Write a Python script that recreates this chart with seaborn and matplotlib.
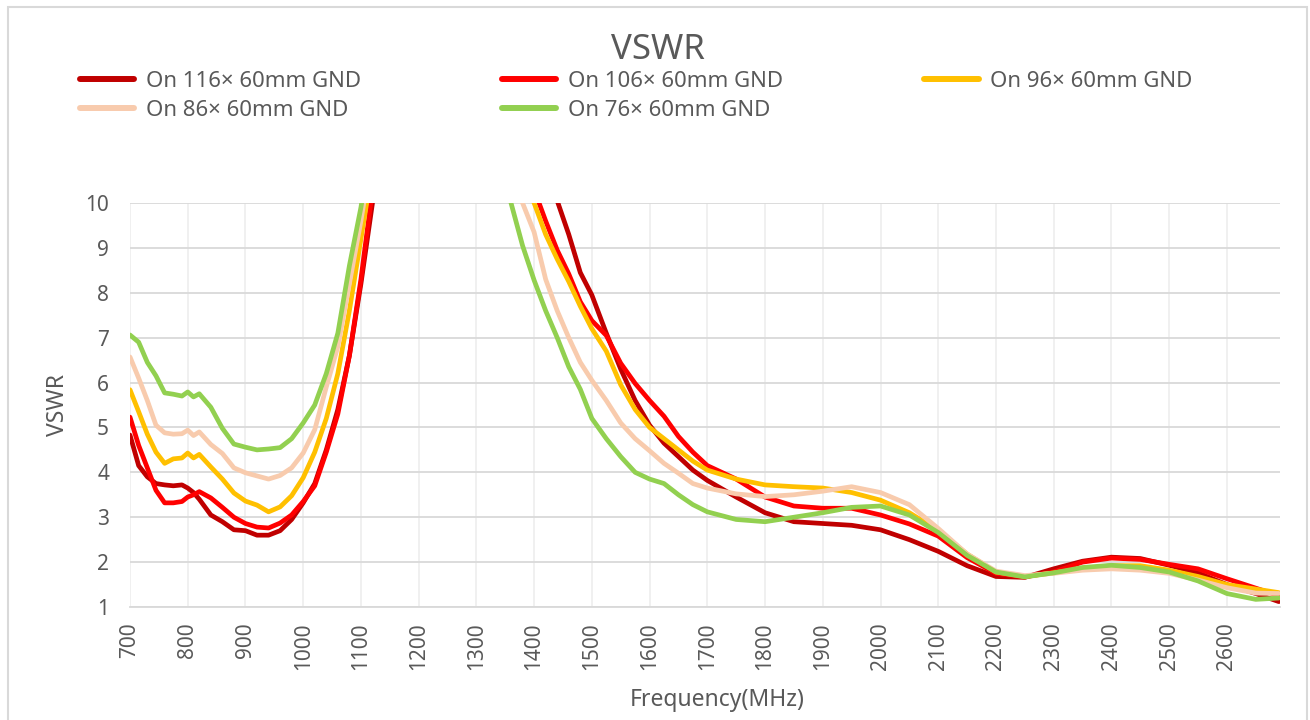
import matplotlib
matplotlib.use('Agg')
import matplotlib.pyplot as plt
import pandas as pd
import seaborn as sns
from matplotlib.patches import Rectangle

# 频率采样点 (MHz)
freq = [700, 715, 730, 745, 760, 775, 790, 800, 810, 820, 840, 860, 880, 900, 920, 940, 960, 980,
        1000, 1020, 1040, 1060, 1080, 1100, 1120, 1140, 1200, 1300, 1340, 1360, 1380, 1400, 1420,
        1440, 1460, 1480, 1500, 1525, 1550, 1575, 1600, 1625, 1650, 1675, 1700, 1750, 1800, 1850,
        1900, 1950, 2000, 2050, 2100, 2150, 2200, 2250, 2300, 2350, 2400, 2450, 2500, 2550, 2600,
        2650, 2690]

vswr_116 = [4.83, 4.15, 3.9, 3.75, 3.72, 3.7, 3.72, 3.65, 3.55, 3.4, 3.05, 2.9, 2.72, 2.7, 2.6, 2.6, 2.7, 2.95,
            3.32, 3.75, 4.5, 5.4, 6.6, 8.2, 10.0, 11.8, 16, 16, 14, 13, 12.2, 11.4, 10.7,
            10.05, 9.3, 8.45, 7.95, 7.1, 6.3, 5.6, 5.05, 4.65, 4.35, 4.05, 3.82, 3.45, 3.1, 2.9,
            2.86, 2.82, 2.72, 2.5, 2.24, 1.92, 1.68, 1.66, 1.85, 2.02, 2.11, 2.08, 1.93, 1.76, 1.5,
            1.3, 1.12]

vswr_106 = [5.23, 4.6, 4.1, 3.6, 3.32, 3.32, 3.35, 3.45, 3.5, 3.57, 3.43, 3.22, 3.0, 2.86, 2.78, 2.76, 2.87, 3.05,
            3.35, 3.7, 4.45, 5.3, 6.6, 8.3, 10.3, 12, 16, 16, 12.5, 11.7, 11.0, 10.3, 9.6,
            8.95, 8.42, 7.8, 7.38, 7.05, 6.43, 5.98, 5.6, 5.25, 4.8, 4.45, 4.15, 3.85, 3.45, 3.25,
            3.2, 3.2, 3.05, 2.85, 2.58, 2.1, 1.75, 1.67, 1.78, 2.0, 2.09, 2.06, 1.95, 1.85, 1.63,
            1.42, 1.25]

vswr_96 = [5.84, 5.35, 4.85, 4.45, 4.2, 4.3, 4.32, 4.43, 4.32, 4.4, 4.12, 3.85, 3.54, 3.36, 3.27, 3.12, 3.23, 3.48,
           3.88, 4.45, 5.2, 6.2, 7.6, 9.2, 10.8, 12.5, 16, 16, 12, 11.3, 10.6, 10.0, 9.3,
           8.75, 8.25, 7.7, 7.2, 6.7, 5.95, 5.4, 5.0, 4.75, 4.5, 4.25, 4.05, 3.85, 3.72, 3.68,
           3.65, 3.55, 3.38, 3.1, 2.7, 2.18, 1.78, 1.68, 1.76, 1.85, 1.92, 1.92, 1.82, 1.68, 1.5,
           1.4, 1.32]

vswr_86 = [6.57, 6.1, 5.6, 5.05, 4.88, 4.85, 4.86, 4.94, 4.82, 4.9, 4.62, 4.42, 4.1, 3.99, 3.92, 3.85, 3.93, 4.1,
           4.43, 4.95, 5.9, 6.8, 8.2, 9.6, 11.2, 13, 16, 16, 11.5, 10.7, 10.0, 9.35, 8.3,
           7.6, 7.0, 6.45, 6.05, 5.6, 5.1, 4.75, 4.48, 4.2, 3.98, 3.75, 3.65, 3.52, 3.46, 3.5,
           3.58, 3.68, 3.55, 3.28, 2.75, 2.18, 1.8, 1.7, 1.75, 1.82, 1.85, 1.82, 1.75, 1.6, 1.43,
           1.31, 1.3]

vswr_76 = [7.06, 6.9, 6.45, 6.15, 5.77, 5.74, 5.7, 5.79, 5.68, 5.75, 5.45, 4.98, 4.63, 4.56, 4.5, 4.52, 4.55, 4.75,
           5.1, 5.5, 6.2, 7.1, 8.6, 9.9, 11.5, 13.5, 16, 16, 11.0, 10.0, 9.05, 8.28, 7.6,
           7.0, 6.35, 5.85, 5.2, 4.75, 4.35, 4.0, 3.85, 3.75, 3.5, 3.28, 3.12, 2.95, 2.9, 3.0,
           3.1, 3.22, 3.25, 3.05, 2.66, 2.15, 1.78, 1.67, 1.76, 1.88, 1.93, 1.88, 1.78, 1.58, 1.3,
           1.17, 1.2]

labels = ['On 116× 60mm GND', 'On 106× 60mm GND', 'On 96× 60mm GND',
          'On 86× 60mm GND', 'On 76× 60mm GND']
colors = ['#C00000', '#FF0000', '#FFC000', '#F8CBAD', '#92D050']
x_ticks = list(range(700, 2700, 100))
y_ticks = list(range(1, 11))

# 整理成长表
series = [vswr_116, vswr_106, vswr_96, vswr_86, vswr_76]
frames = [pd.DataFrame({'freq': freq, 'vswr': s, 'ant': lab}) for s, lab in zip(series, labels)]
df = pd.concat(frames, ignore_index=True)

sns.set_theme(style='white')
plt.rcParams['font.family'] = ['Noto Sans', 'DejaVu Sans']
text_color = '#595959'

fig = plt.figure(figsize=(13.1, 7.2), dpi=100)
ax = fig.add_axes([130 / 1310, 1 - 607 / 720, 1150 / 1310, 404 / 720])

sns.lineplot(data=df, x='freq', y='vswr', hue='ant', palette=colors, hue_order=labels,
             sort=False, linewidth=3.4, ax=ax, legend=False)

ax.set_xlim(700, 2692)
ax.set_ylim(1, 10)
ax.set_xticks(x_ticks)
ax.set_xticklabels([str(t) for t in x_ticks], rotation=90)
ax.set_yticks(y_ticks)
ax.tick_params(axis='both', length=0, labelsize=15, labelcolor=text_color)
ax.tick_params(axis='x', pad=11)
ax.tick_params(axis='y', pad=15)

# 网格线：横向较深，纵向较浅
ax.grid(axis='y', color='#D9D9D9', linewidth=1.3)
ax.grid(axis='x', color='#EFEFEF', linewidth=1.3)
ax.set_axisbelow(True)
for side in ['left', 'right', 'top']:
    ax.spines[side].set_visible(False)
ax.spines['bottom'].set_color('#D9D9D9')
ax.spines['bottom'].set_linewidth(1.3)

ax.set_xlabel('Frequency(MHz)', fontsize=16.5, color=text_color)
ax.xaxis.set_label_coords(0.511, -0.2)
ax.set_ylabel('VSWR', fontsize=16.5, color=text_color)
ax.yaxis.set_label_coords(-0.052, 0.5)

fig.text(0.502, 0.93, 'VSWR', ha='center', va='center', fontsize=25, color=text_color)

# 图例按行排列：matplotlib 按列填充，所以重新排序
order = [0, 3, 1, 4, 2]
handles = [plt.Line2D([], [], color=colors[i], linewidth=4.3, solid_capstyle='round') for i in order]
fig.legend(handles, [labels[i] for i in order], loc='upper left', ncol=3, mode='expand',
           bbox_to_anchor=(80 / 1310, 1 - 71 / 720, 1112 / 1310, 0.0),
           frameon=False, fontsize=16, labelcolor=text_color,
           handlelength=2.45, handletextpad=0.5, labelspacing=0.34,
           borderpad=0, borderaxespad=0)

# 外框
fig.patches.append(Rectangle((8 / 1310, -0.05), 1299 / 1310, 1.05 - 7 / 720,
                             transform=fig.transFigure, fill=False,
                             edgecolor='#D9D9D9', linewidth=1.5))

fig.savefig('out.png', dpi=100)
